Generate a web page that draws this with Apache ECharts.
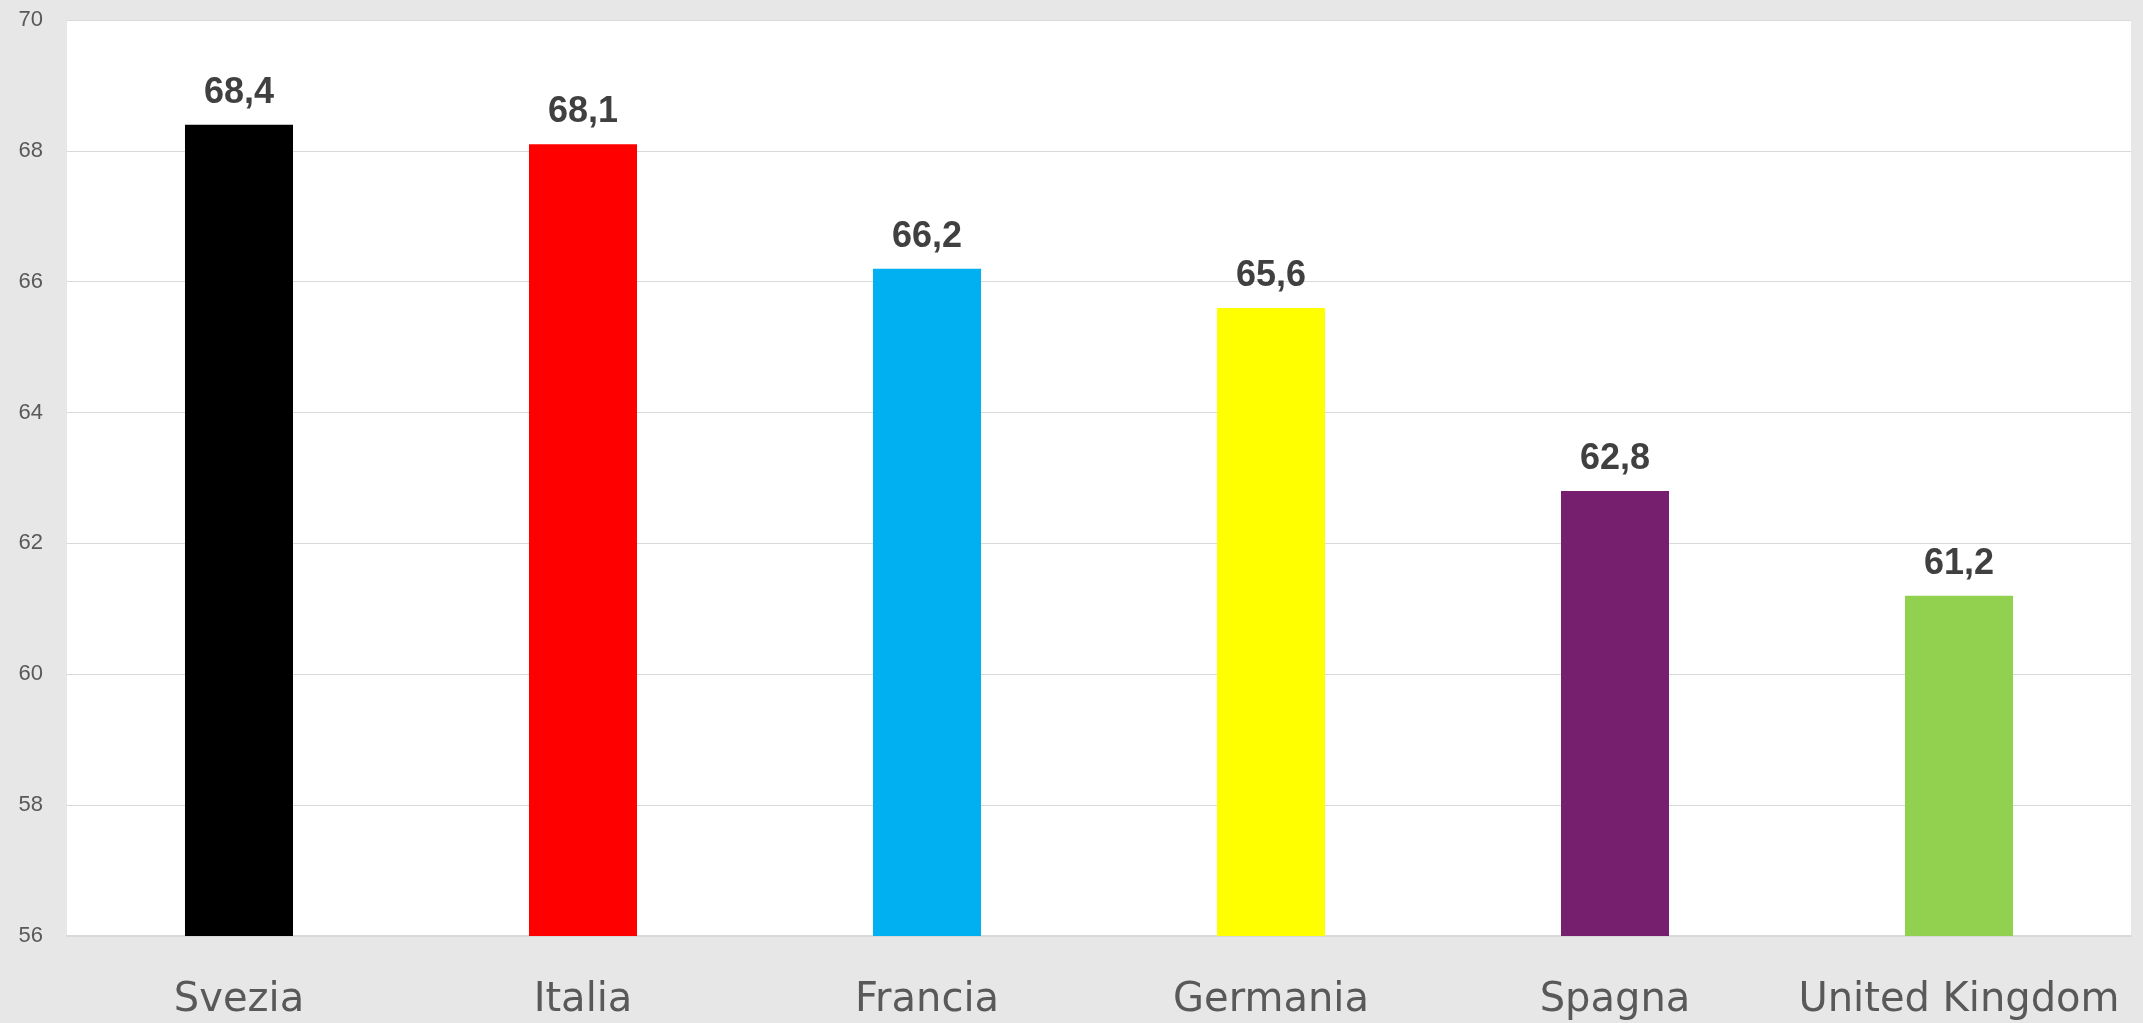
<!DOCTYPE html>
<html>
<head>
<meta charset="utf-8">
<script src="https://cdn.jsdelivr.net/npm/echarts@6/dist/echarts.min.js"></script>
<style>
  html, body { margin: 0; padding: 0; background: #e7e7e7; }
  #chart { width: 2143px; height: 1023px; }
</style>
</head>
<body>
<div id="chart"></div>
<script>
// Paesi e valori
const countries = ['Svezia', 'Italia', 'Francia', 'Germania', 'Spagna', 'United Kingdom'];
const values = [68.4, 68.1, 66.2, 65.6, 62.8, 61.2];
const barColors = ['#000000', '#FF0000', '#00B0F0', '#FFFF00', '#761F6E', '#92D050'];

// Asse Y
const yMin = 56;
const yMax = 70;
const yStep = 2;

const chart = echarts.init(document.getElementById('chart'), null, { renderer: 'canvas' });

chart.setOption({
  backgroundColor: '#e7e7e7',
  animation: false,
  grid: {
    left: 67, right: 12, top: 20, bottom: 87,
    show: true, backgroundColor: '#ffffff', borderWidth: 0
  },
  xAxis: {
    type: 'category',
    data: countries,
    axisTick: { show: false },
    axisLine: { show: true, lineStyle: { color: '#d9d9d9', width: 2 } },
    axisLabel: {
      interval: 0,
      hideOverlap: false,
      color: '#595959',
      fontFamily: 'DejaVu Sans',
      fontSize: 40,
      lineHeight: 40,
      margin: 45
    }
  },
  yAxis: {
    type: 'value',
    min: yMin,
    max: yMax,
    interval: yStep,
    axisLine: { show: false },
    axisTick: { show: false },
    splitLine: { lineStyle: { color: '#d9d9d9', width: 1 } },
    axisLabel: {
      color: '#595959',
      fontFamily: 'Liberation Sans',
      fontSize: 22,
      margin: 24
    }
  },
  series: [{
    type: 'bar',
    data: values.map((v, i) => ({ value: v, itemStyle: { color: barColors[i] } })),
    barWidth: '31.4%',
    label: {
      show: true,
      position: 'top',
      distance: 14,
      color: '#404040',
      fontFamily: 'Liberation Sans',
      fontWeight: 'bold',
      fontSize: 36,
      formatter: p => p.value.toFixed(1).replace('.', ',')
    }
  }]
});
</script>
</body>
</html>
